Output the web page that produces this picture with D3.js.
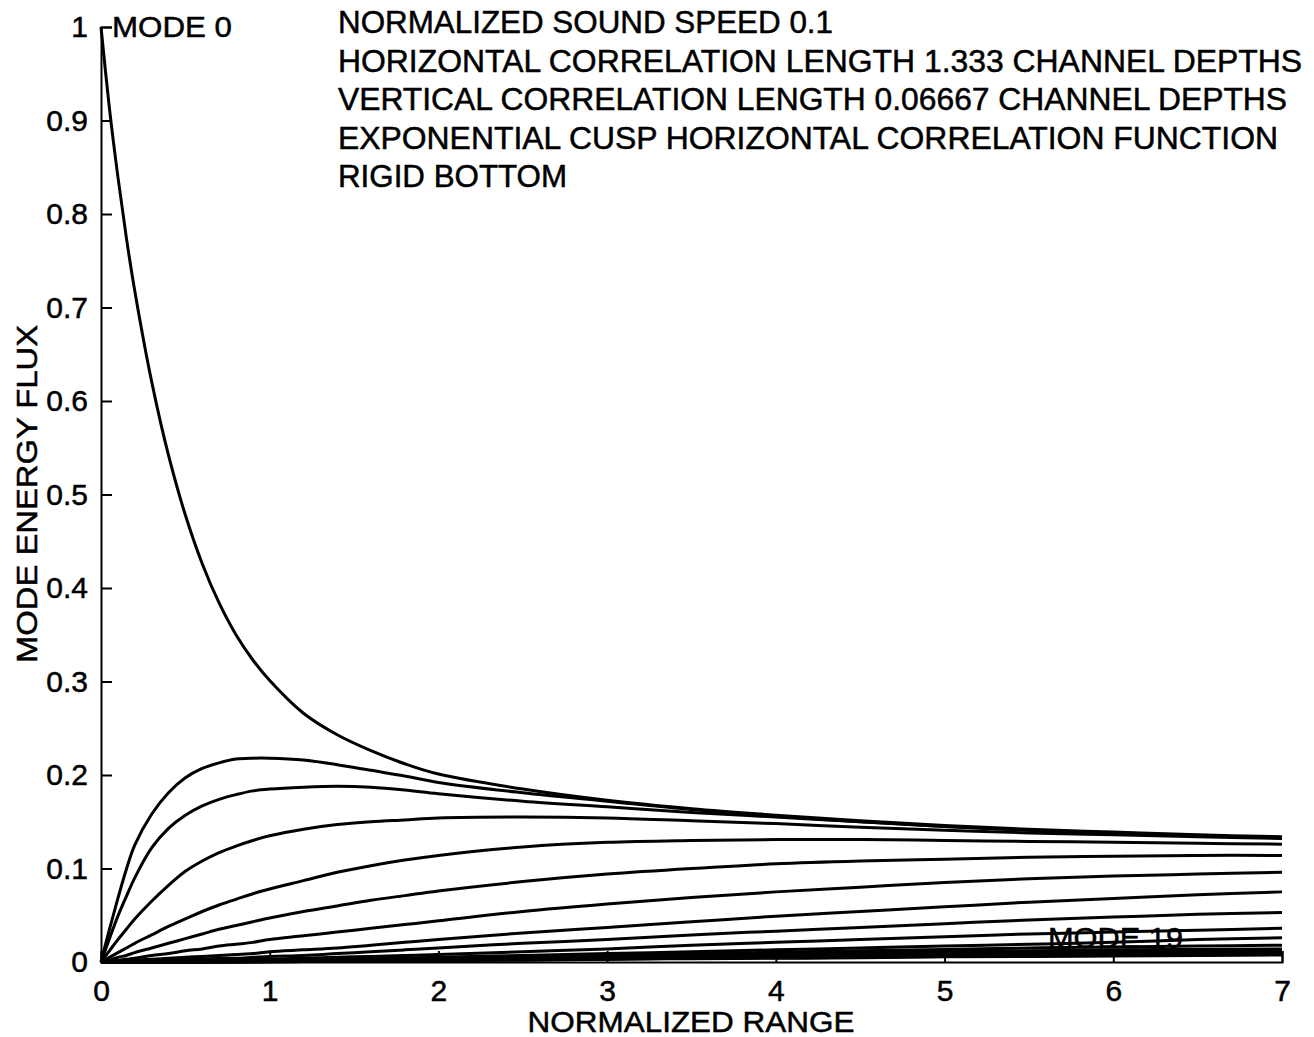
<!DOCTYPE html>
<html>
<head>
<meta charset="utf-8">
<script src="https://cdn.jsdelivr.net/npm/d3@7/dist/d3.min.js"></script>
<style>
  html, body { margin: 0; padding: 0; background: #fff; }
  svg { display: block; }
  text { font-family: "Liberation Sans", Arial, Helvetica, sans-serif; fill: #000; stroke: #000; stroke-width: 0.5px; }
</style>
</head>
<body>
<svg id="chart" width="1314" height="1037"></svg>
<script>
// Normalized range samples shared by every mode curve
const ranges = [0, 0.05, 0.1, 0.15, 0.2, 0.3, 0.4, 0.5, 0.6, 0.7, 0.8, 0.9, 1.0, 1.2, 1.4, 1.6, 1.8, 2.0, 2.5, 3.0, 3.5, 4.0, 4.5, 5.0, 5.5, 6.0, 6.5, 7.0];

// Mode energy flux per mode, sampled at the ranges above
const mode0  = [1.000, 0.913, 0.840, 0.775, 0.718, 0.621, 0.542, 0.478, 0.426, 0.384, 0.350, 0.323, 0.301, 0.266, 0.243, 0.226, 0.212, 0.201, 0.185, 0.173, 0.164, 0.157, 0.151, 0.146, 0.142, 0.139, 0.136, 0.134];
const mode1  = [0, 0.035, 0.068, 0.099, 0.125, 0.158, 0.181, 0.197, 0.207, 0.213, 0.217, 0.218, 0.218, 0.216, 0.211, 0.205, 0.199, 0.192, 0.181, 0.172, 0.163, 0.156, 0.150, 0.145, 0.141, 0.138, 0.135, 0.133];
const mode2  = [0, 0.025, 0.049, 0.070, 0.090, 0.122, 0.143, 0.157, 0.167, 0.174, 0.179, 0.183, 0.185, 0.187, 0.188, 0.187, 0.184, 0.180, 0.172, 0.166, 0.160, 0.155, 0.150, 0.145, 0.141, 0.138, 0.135, 0.133];
const mode3  = [0, 0.012, 0.024, 0.035, 0.046, 0.065, 0.082, 0.097, 0.108, 0.117, 0.124, 0.130, 0.135, 0.142, 0.147, 0.150, 0.152, 0.154, 0.155, 0.154, 0.151, 0.148, 0.144, 0.141, 0.138, 0.136, 0.134, 0.132];
const mode4  = [0, 0.005, 0.010, 0.015, 0.020, 0.029, 0.038, 0.046, 0.054, 0.061, 0.067, 0.073, 0.078, 0.087, 0.096, 0.103, 0.109, 0.114, 0.123, 0.128, 0.130, 0.131, 0.131, 0.130, 0.129, 0.128, 0.127, 0.126];
const mode5  = [0, 0.002, 0.005, 0.007, 0.010, 0.015, 0.020, 0.025, 0.030, 0.035, 0.039, 0.043, 0.047, 0.054, 0.060, 0.066, 0.071, 0.076, 0.086, 0.094, 0.100, 0.105, 0.108, 0.110, 0.112, 0.113, 0.114, 0.114];
const mode6  = [0, 0.001, 0.002, 0.003, 0.004, 0.007, 0.009, 0.012, 0.014, 0.017, 0.019, 0.021, 0.024, 0.028, 0.032, 0.036, 0.040, 0.044, 0.054, 0.062, 0.069, 0.075, 0.080, 0.085, 0.089, 0.092, 0.094, 0.096];
const mode7  = [0, 0.0005, 0.001, 0.0015, 0.002, 0.003, 0.004, 0.005, 0.006, 0.007, 0.008, 0.009, 0.011, 0.013, 0.015, 0.018, 0.021, 0.024, 0.031, 0.037, 0.043, 0.049, 0.054, 0.059, 0.064, 0.068, 0.072, 0.075];
const mode8  = [0, 0, 0.0005, 0.001, 0.001, 0.002, 0.002, 0.003, 0.003, 0.004, 0.004, 0.005, 0.006, 0.007, 0.009, 0.011, 0.013, 0.015, 0.020, 0.024, 0.029, 0.033, 0.037, 0.041, 0.045, 0.048, 0.051, 0.053];
const mode9  = [0, 0, 0, 0, 0.0005, 0.001, 0.001, 0.0015, 0.002, 0.002, 0.0025, 0.003, 0.003, 0.004, 0.005, 0.006, 0.007, 0.008, 0.011, 0.014, 0.018, 0.021, 0.024, 0.027, 0.030, 0.032, 0.034, 0.036];
const mode10 = [0, 0, 0, 0, 0, 0.0005, 0.0005, 0.001, 0.001, 0.001, 0.0015, 0.0015, 0.002, 0.0025, 0.003, 0.0035, 0.004, 0.005, 0.007, 0.009, 0.011, 0.013, 0.015, 0.017, 0.019, 0.021, 0.024, 0.026];
const mode11 = [0, 0, 0, 0, 0, 0.0005, 0.0005, 0.001, 0.001, 0.0015, 0.0015, 0.002, 0.002, 0.0025, 0.003, 0.0035, 0.004, 0.0045, 0.006, 0.0075, 0.009, 0.0105, 0.012, 0.0135, 0.015, 0.016, 0.017, 0.018];
const mode12 = [0, 0, 0, 0, 0, 0, 0.0005, 0.0005, 0.001, 0.001, 0.001, 0.0015, 0.0015, 0.002, 0.0025, 0.003, 0.0035, 0.004, 0.005, 0.0065, 0.0075, 0.009, 0.010, 0.011, 0.012, 0.013, 0.0135, 0.014];
const mode13 = [0, 0, 0, 0, 0, 0, 0, 0.0005, 0.0005, 0.001, 0.001, 0.001, 0.0015, 0.002, 0.002, 0.0025, 0.003, 0.0035, 0.0045, 0.0055, 0.0065, 0.0075, 0.0085, 0.0095, 0.010, 0.011, 0.0115, 0.012];
const mode14 = [0, 0, 0, 0, 0, 0, 0, 0, 0.0005, 0.0005, 0.001, 0.001, 0.001, 0.0015, 0.002, 0.002, 0.0025, 0.003, 0.004, 0.005, 0.006, 0.007, 0.0075, 0.0085, 0.009, 0.010, 0.0105, 0.011];
const mode15 = [0, 0, 0, 0, 0, 0, 0, 0, 0, 0.0005, 0.0005, 0.001, 0.001, 0.001, 0.0015, 0.002, 0.002, 0.0025, 0.0035, 0.0045, 0.0055, 0.006, 0.007, 0.0075, 0.008, 0.009, 0.0095, 0.010];
const mode16 = [0, 0, 0, 0, 0, 0, 0, 0, 0, 0, 0.0005, 0.0005, 0.001, 0.001, 0.0015, 0.0015, 0.002, 0.002, 0.003, 0.004, 0.005, 0.0055, 0.006, 0.007, 0.0075, 0.008, 0.0085, 0.009];
const mode17 = [0, 0, 0, 0, 0, 0, 0, 0, 0, 0, 0, 0.0005, 0.0005, 0.001, 0.001, 0.0015, 0.0015, 0.002, 0.003, 0.0035, 0.0045, 0.005, 0.0055, 0.0065, 0.007, 0.0075, 0.008, 0.0085];
const mode18 = [0, 0, 0, 0, 0, 0, 0, 0, 0, 0, 0, 0, 0.0005, 0.0005, 0.001, 0.001, 0.0015, 0.0015, 0.0025, 0.003, 0.004, 0.0045, 0.005, 0.006, 0.0065, 0.007, 0.0075, 0.008];
const mode19 = [0, 0, 0, 0, 0, 0, 0, 0, 0, 0, 0, 0, 0, 0.0005, 0.0005, 0.001, 0.001, 0.0015, 0.002, 0.003, 0.0035, 0.004, 0.0045, 0.0055, 0.006, 0.0065, 0.007, 0.0075];

const modes = [mode0, mode1, mode2, mode3, mode4, mode5, mode6, mode7, mode8, mode9,
               mode10, mode11, mode12, mode13, mode14, mode15, mode16, mode17, mode18, mode19];

// Axis ticks
const xTicks = [0, 1, 2, 3, 4, 5, 6, 7];
const yTicks = [0, 0.1, 0.2, 0.3, 0.4, 0.5, 0.6, 0.7, 0.8, 0.9, 1];
const yTickLabels = ["0", "0.1", "0.2", "0.3", "0.4", "0.5", "0.6", "0.7", "0.8", "0.9", "1"];

// Parameter lines printed at the top of the plot
const notes = [
  "NORMALIZED SOUND SPEED 0.1",
  "HORIZONTAL CORRELATION LENGTH 1.333 CHANNEL DEPTHS",
  "VERTICAL CORRELATION LENGTH 0.06667 CHANNEL DEPTHS",
  "EXPONENTIAL CUSP HORIZONTAL CORRELATION FUNCTION",
  "RIGID BOTTOM"
];
const noteWidths = [495, 964, 949, 940, 229];

const svg = d3.select("#chart");
const x = d3.scaleLinear().domain([0, 7]).range([101, 1282]);
const y = d3.scaleLinear().domain([0, 1]).range([962, 27]);

const fontSize = 30;

// Axes: left and bottom only, ticks pointing inward
const yAxis = d3.axisLeft(y).tickValues(yTicks).tickSize(-11).tickPadding(13)
  .tickFormat((d, i) => yTickLabels[i]);
const xAxis = d3.axisBottom(x).tickValues(xTicks).tickSize(-11).tickPadding(14)
  .tickFormat(d3.format("d"));

const gy = svg.append("g").attr("transform", "translate(101,0)").call(yAxis);
const gx = svg.append("g").attr("transform", "translate(0,962)").call(xAxis);

[gy, gx].forEach(g => {
  g.select(".domain").attr("stroke", "#000").attr("stroke-width", 2);
  g.selectAll(".tick line").attr("stroke", "#000").attr("stroke-width", 2);
  g.selectAll(".tick text").attr("font-size", fontSize)
    .attr("font-family", "'Liberation Sans', Arial, sans-serif").attr("fill", "#000");
});
gx.selectAll(".tick text").attr("dy", "0.82em");

// Mode curves
const line = d3.line()
  .x((d, i) => x(ranges[i]))
  .y(d => y(d))
  .curve(d3.curveCatmullRom.alpha(0.5));

svg.append("g")
  .selectAll("path")
  .data(modes)
  .join("path")
  .attr("d", line)
  .attr("fill", "none")
  .attr("stroke", "#000")
  .attr("stroke-width", 3)
  .attr("stroke-linejoin", "round");

// Mode labels
svg.append("text").attr("x", 112).attr("y", 37).attr("font-size", fontSize)
  .attr("textLength", 120).attr("lengthAdjust", "spacingAndGlyphs").text("MODE 0");
svg.append("text").attr("x", 1048).attr("y", 948).attr("font-size", 29)
  .attr("textLength", 135).attr("lengthAdjust", "spacingAndGlyphs").text("MODE 19");

// Parameter notes
svg.append("g").selectAll("text")
  .data(notes)
  .join("text")
  .attr("x", 338)
  .attr("y", (d, i) => 33 + i * 38.6)
  .attr("font-size", 31)
  .attr("textLength", (d, i) => noteWidths[i])
  .attr("lengthAdjust", "spacingAndGlyphs")
  .text(d => d);

// Axis titles
svg.append("text").attr("x", 691).attr("y", 1032).attr("text-anchor", "middle")
  .attr("font-size", fontSize).attr("textLength", 327).attr("lengthAdjust", "spacingAndGlyphs")
  .text("NORMALIZED RANGE");
svg.append("text").attr("transform", "translate(37,494) rotate(-90)")
  .attr("text-anchor", "middle").attr("font-size", fontSize)
  .attr("textLength", 338).attr("lengthAdjust", "spacingAndGlyphs")
  .text("MODE ENERGY FLUX");
</script>
</body>
</html>
